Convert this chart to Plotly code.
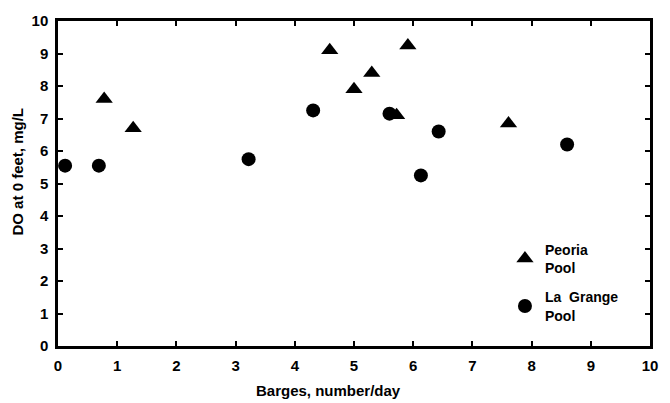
import plotly.graph_objects as go

peoria_x = [0.78, 1.27, 4.59, 5.00, 5.30, 5.72, 5.91, 7.61]
peoria_y = [7.6, 6.7, 9.1, 7.9, 8.4, 7.1, 9.25, 6.85]
lagrange_x = [0.12, 0.69, 3.22, 4.31, 5.60, 6.13, 6.43, 8.60]
lagrange_y = [5.55, 5.55, 5.75, 7.25, 7.15, 5.25, 6.6, 6.2]
tick_vals = list(range(0, 11))
x_title = "Barges, number/day"
y_title = "DO at 0 feet, mg/L"

FONT = "Liberation Sans"
fig = go.Figure()
fig.add_trace(go.Scatter(x=peoria_x, y=peoria_y, mode="markers", name="Peoria<br>Pool",
                         legendgroup="peoria",
                         marker=dict(symbol="triangle-up", size=15, color="black")))
fig.add_trace(go.Scatter(x=lagrange_x, y=lagrange_y, mode="markers", name="La  Grange<br>Pool",
                         legendgroup="lagrange",
                         marker=dict(symbol="circle", size=14, color="black")))

axis_common = dict(range=[0, 10], tickvals=tick_vals, ticks="inside", ticklen=5, tickwidth=2,
                   tickcolor="black", showline=True, linecolor="black", linewidth=2.5,
                   mirror="allticks", showgrid=False, zeroline=False,
                   tickfont=dict(family=FONT, size=15, color="black", weight="bold"))
fig.update_xaxes(ticklabelstandoff=4, **axis_common)
fig.update_yaxes(ticklabelstandoff=4, **axis_common)

title_font = dict(family=FONT, size=15, color="black", weight="bold")
fig.add_annotation(text=x_title, xref="paper", yref="paper", x=0.4565, y=-0.138,
                   xanchor="center", yanchor="middle", showarrow=False, font=title_font)
fig.add_annotation(text=y_title, xref="paper", yref="paper", x=-0.068, y=0.536,
                   xanchor="center", yanchor="middle", textangle=-90, showarrow=False, font=title_font)

fig.update_layout(
    width=670, height=403,
    margin=dict(l=58, r=14, t=15, b=57),
    plot_bgcolor="white", paper_bgcolor="white",
    legend=dict(x=0.755, y=0.345, xanchor="left", yanchor="top", bgcolor="rgba(0,0,0,0)",
                font=dict(family=FONT, size=14, color="black", weight="bold"),
                itemwidth=30, tracegroupgap=8),
)
fig.write_html("out.html")
